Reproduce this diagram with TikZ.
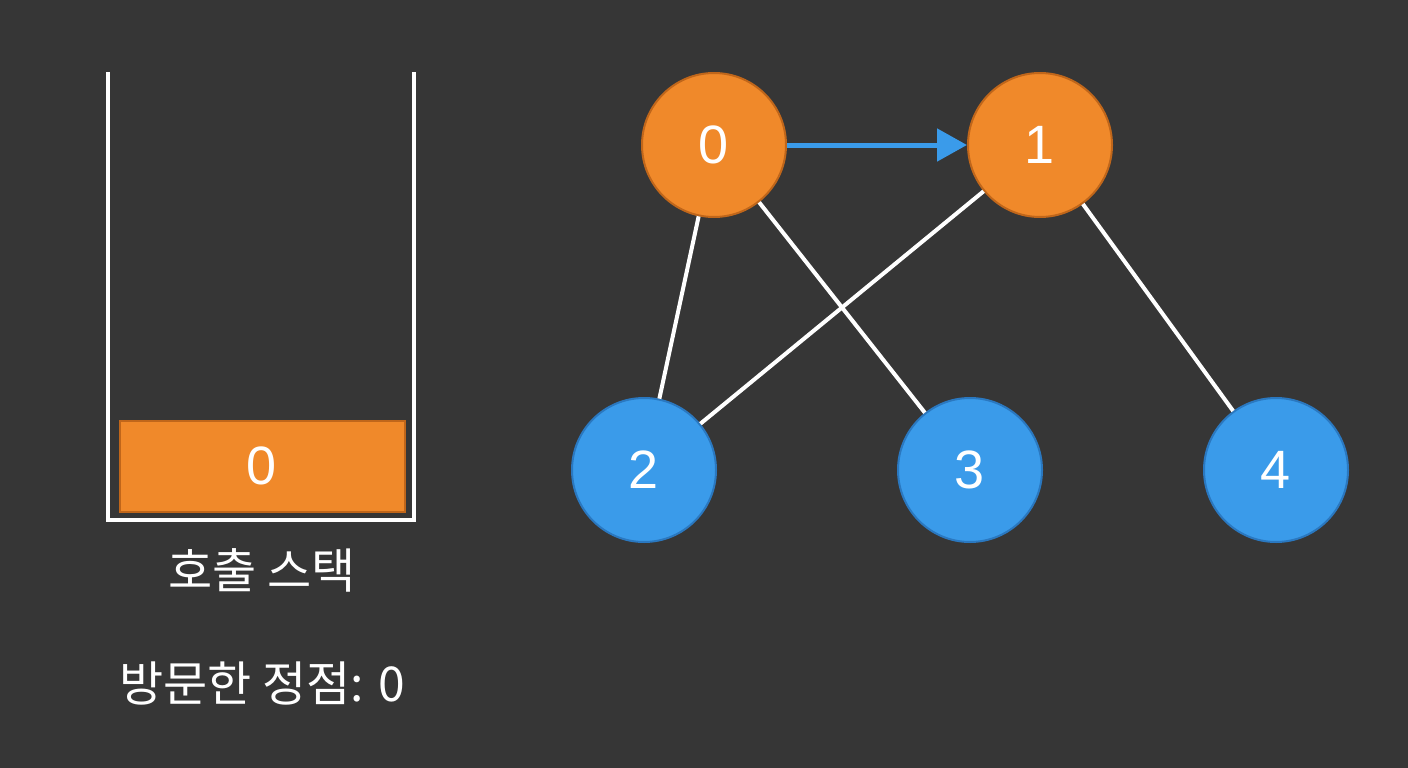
\documentclass[tikz,border=0pt]{standalone}
\usepackage{fontspec}
\setmainfont{Liberation Sans}
\newfontfamily\kr{Noto Sans CJK KR}
\usetikzlibrary{arrows.meta}
\definecolor{bg}{HTML}{363636}
\definecolor{org}{HTML}{F0892A}
\definecolor{orgd}{HTML}{C0661A}
\definecolor{blu}{HTML}{3A9BEA}
\definecolor{blud}{HTML}{2A78C0}
\begin{document}
\begin{tikzpicture}[x=1pt,y=-1pt,
  vo/.style={circle,minimum size=144pt,fill=org,draw=orgd,line width=2pt,text=white,font=\fontsize{54}{60}\selectfont},
  vb/.style={circle,minimum size=144pt,fill=blu,draw=blud,line width=2pt,text=white,font=\fontsize{54}{60}\selectfont},
  edge/.style={white,line width=4pt},
  lbl/.style={text=white,font=\kr\fontsize{48}{56}\selectfont}]
\fill[bg] (0,0) rectangle (1408,768);
\useasboundingbox (0,0) rectangle (1408,768);
\draw[white,line width=3.5pt] (108,72) -- (108,520) -- (414,520) -- (414,72);
\node[draw=orgd,fill=org,line width=2pt,minimum width=285pt,minimum height=91pt,text=white,font=\fontsize{54}{60}\selectfont] (s0) at (262,466) {0};
\node[lbl] (cap) at (262,570) {호출 스택};
\node[lbl] (vis) at (262,683) {방문한 정점: 0};
\node[vo] (n0) at (714,145) {0};
\node[vo] (n1) at (1040,145) {1};
\node[vb] (n2) at (644,470) {2};
\node[vb] (n3) at (970,470) {3};
\node[vb] (n4) at (1276,470) {4};
\draw[edge] (n0) -- (n2);
\draw[edge] (n0) -- (n3);
\draw[edge] (n1) -- (n2);
\draw[edge] (n1) -- (n4);
\draw[blu,line width=5pt,-{Triangle[length=30pt,width=32pt]}] (n0) -- (n1);
\end{tikzpicture}
\end{document}
